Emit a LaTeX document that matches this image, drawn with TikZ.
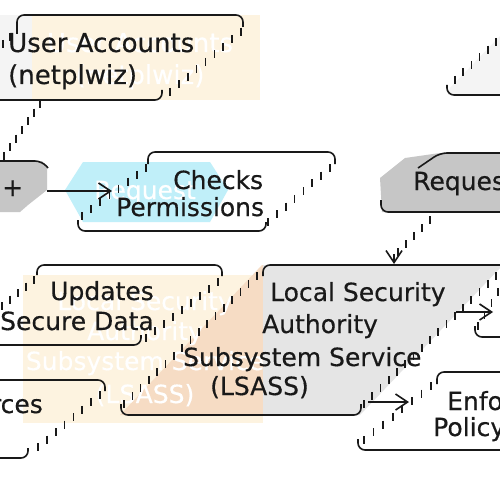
\documentclass[tikz,border=0pt]{standalone}
\usepackage{fontspec}
\setmainfont{DejaVu Sans}[FakeBold=0.4]
\usetikzlibrary{calc,arrows.meta}
\definecolor{beige}{RGB}{253,243,224}
\definecolor{peach}{RGB}{246,220,196}
\definecolor{lgray}{RGB}{229,229,229}
\definecolor{mgray}{RGB}{198,198,198}
\definecolor{cyanfill}{RGB}{192,239,249}
\definecolor{ink}{RGB}{25,25,25}
\definecolor{boxgray}{RGB}{244,244,244}
\newcommand\stair[3]{\foreach \k in {0,...,#3}{\draw[tickline] ($#1!\k/#3!#2$) ++(0,-4) -- ++(0,8);}}
\begin{document}
\begin{tikzpicture}[x=1pt,y=-1pt,
  font=\fontsize{25}{29}\selectfont,
  txt/.style={anchor=base west, inner sep=0pt, text=ink},
  txtr/.style={anchor=base east, inner sep=0pt, text=ink},
  ghost/.style={anchor=base, inner sep=0pt, text=white},
  edge/.style={draw=ink, line width=1.6pt, rounded corners=7pt},
  tickline/.style={draw=ink, line width=1.6pt},
  conn/.style={draw=ink, line width=1.6pt},
  arr/.style={conn, -{Straight Barb[length=12pt,width=16pt,line width=1.6pt]}}]
\useasboundingbox (0,0) rectangle (500,500);
\clip (0,0) rectangle (500,500);
\fill[white] (0,0) rectangle (500,500);
% fills
\fill[boxgray] (0,15) rectangle (32,100);
\fill[beige] (32,15) rectangle (260,100);
\fill[beige] (23,275) rectangle (263,423);
\begin{scope}
  \clip (0,0) rectangle (263,500);
  \fill[peach] (262,265) -- (500,265) -- (360,415) -- (120,415) -- cycle;
\end{scope}
\begin{scope}
  \clip (263,0) rectangle (500,500);
  \fill[lgray] (262,265) -- (500,265) -- (500,268) -- (360,415) -- (120,415) -- cycle;
\end{scope}
\fill[cyanfill] (65,190) -- (83,162) -- (210,162) -- (228,190) -- (210,222) -- (83,222) -- cycle;
\fill[mgray] (0,161) -- (42,161) -- (47,166) -- (47,190) -- (28,205) -- (20,212) -- (0,212) -- cycle;
\fill[mgray] (382,212) -- (380,178) -- (405,158) -- (440,153) -- (500,153) -- (500,212) -- cycle;
\fill[boxgray] (448,95) -- (500,95) -- (500,36) -- (450,88) -- cycle;
% ghost texts
\node[ghost, font=\fontsize{26}{30}\selectfont] (g1) at (140,52) {User Accounts};
\node[ghost, font=\fontsize{26}{30}\selectfont] (g2) at (140,84) {(netplwiz)};
\node[ghost] (g3) at (145,199) {Request};
\node[ghost] (g4) at (145,310) {Local Security};
\node[ghost] (g5) at (145,340) {Authority};
\node[ghost] (g6) at (145,370) {Subsystem Service};
\node[ghost] (g7) at (145,403) {(LSASS)};
% box outlines
% User Accounts
\draw[edge] (17,27) -- (17,15) -- (243,15) -- (243,27);
\stair{(17,30)}{(3,44)}{2}
\stair{(241,32)}{(170,92)}{8}
\draw[edge] (0,100) -- (162,100) -- (162,90);
% Checks Permissions
\draw[edge] (148,164) -- (148,152) -- (335,152) -- (335,164);
\stair{(146,168)}{(82,216)}{7}
\stair{(330,168)}{(268,222)}{7}
\draw[edge] (78,220) -- (78,231) -- (266,231) -- (266,222);
% gray left request
\draw[edge] (0,161) -- (42,161) -- (48,168);
% gray right request
\draw[edge] (418,168) -- (440,153) -- (500,153);
\draw[edge] (381,200) -- (381,212) -- (500,212);
% top right box
\draw[edge] (500,95) -- (447,95) -- (447,85);
\stair{(455,80)}{(496,42)}{5}
% Updates
\draw[edge] (37,275) -- (37,265) -- (222,265) -- (222,276);
\stair{(34,280)}{(2,306)}{4}
\stair{(218,282)}{(146,338)}{8}
\draw[edge] (0,345) -- (141,345) -- (141,335);
% LSASS
\draw[edge] (263,276) -- (263,265) -- (500,265);
\stair{(257,276)}{(124,404)}{16}
\stair{(496,276)}{(364,404)}{16}
\draw[edge] (121,404) -- (121,415) -- (361,415) -- (361,404);
% right small box
\stair{(498,292)}{(478,326)}{3}
\draw[edge] (475,326) -- (475,337) -- (500,337);
% Enforces left
\draw[edge] (0,380) -- (105,380) -- (105,391);
\stair{(100,395)}{(38,447)}{7}
\draw[edge] (0,458) -- (28,458) -- (28,448);
% Enforces right
\draw[edge] (437,384) -- (437,372) -- (500,372);
\stair{(431,386)}{(364,440)}{7}
\draw[edge] (358,439) -- (358,450) -- (500,450);
% black texts
\node[txt, font=\fontsize{26}{30}\selectfont] (ua1) at (8,52) {User Accounts};
\node[txt, font=\fontsize{26}{30}\selectfont] (ua2) at (8,84) {(netplwiz)};
\node[txt] (rq1) at (2,196) {+};
\node[txt] (ck1) at (173,189) {Checks};
\node[txt] (ck2) at (116,216) {Permissions};
\node[txt] (rq2) at (413,190) {Request};
\node[txt] (up1) at (50,300) {Updates};
\node[txt] (up2) at (0,330) {Secure Data};
\node[txt] (ls1) at (270,301) {Local Security};
\node[txt] (ls2) at (262,333) {Authority};
\node[txt] (ls3) at (183,366) {Subsystem Service};
\node[txt] (ls4) at (210,395) {(LSASS)};
\node[txtr] (ef1) at (43,413) {Enforces};
\node[txt] (ef2) at (447,410) {Enforces};
\node[txt] (ef3) at (433,436) {Policy};
% connectors
\coordinate (uaB) at (40,104);
\coordinate (rqL) at (4,156);
\stair{(uaB)}{(rqL)}{6}
\coordinate (rqLR) at (47,191);
\coordinate (ckT) at (112,191);
\draw[arr] (rqLR) -- (ckT);
\coordinate (rqRB) at (430,220);
\coordinate (lsT1) at (398,252);
\stair{(rqRB)}{(lsT1)}{4}
\coordinate (lsA) at (394,254);
\coordinate (lsTop) at (394,264);
\draw[arr] (lsA) -- (lsTop);
\coordinate (lsR1) at (456,312);
\coordinate (sbL) at (493,312);
\draw[arr] (lsR1) -- (sbL);
\coordinate (lsR2) at (368,402);
\coordinate (efL) at (409,402);
\draw[arr] (lsR2) -- (efL);
\end{tikzpicture}
\end{document}
